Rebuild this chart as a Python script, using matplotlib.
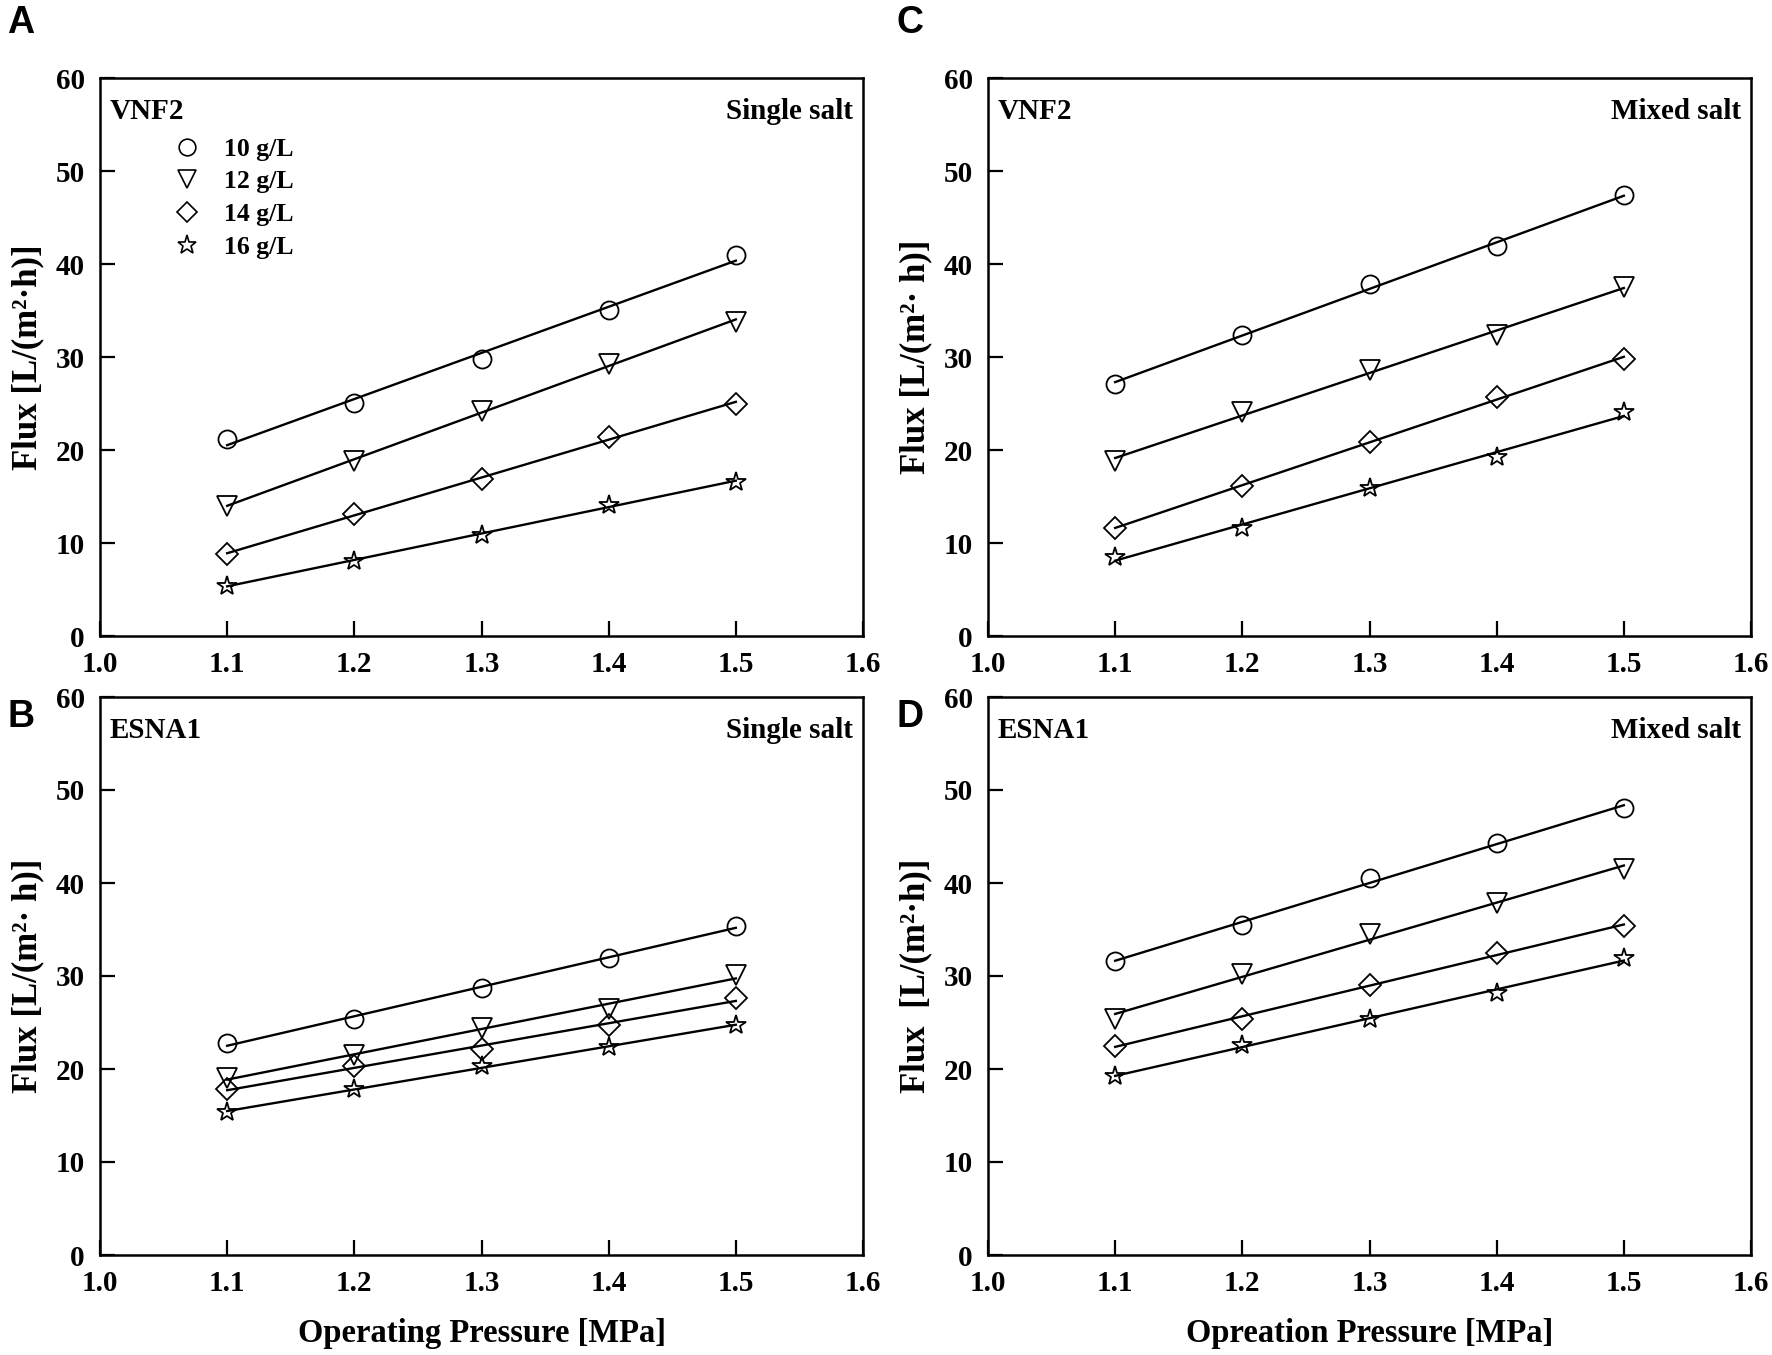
import numpy as np
import matplotlib
matplotlib.use("Agg")
import matplotlib.pyplot as plt
from matplotlib.lines import Line2D

plt.rcParams['font.family'] = ['Liberation Serif', 'DejaVu Serif']
plt.rcParams['font.weight'] = 'bold'

pressure = [1.1, 1.2, 1.3, 1.4, 1.5]
conc_labels = ["10 g/L", "12 g/L", "14 g/L", "16 g/L"]
markers = ['o', 'v', 'D', '*']

# Panel A: VNF2, single salt
A_10 = [21.2, 25.1, 29.8, 35.1, 41.0]
A_12 = [14.0, 18.8, 24.2, 29.3, 33.8]
A_14 = [8.8, 13.1, 16.9, 21.4, 25.0]
A_16 = [5.4, 8.1, 10.9, 14.1, 16.6]
# Panel B: ESNA1, single salt
B_10 = [22.8, 25.4, 28.7, 31.9, 35.4]
B_12 = [19.0, 21.5, 24.4, 26.5, 30.1]
B_14 = [17.8, 20.3, 22.2, 24.7, 27.6]
B_16 = [15.4, 17.8, 20.3, 22.4, 24.7]
# Panel C: VNF2, mixed salt
C_10 = [27.1, 32.4, 37.8, 41.9, 47.4]
C_12 = [18.8, 24.1, 28.6, 32.4, 37.5]
C_14 = [11.6, 16.1, 20.9, 25.7, 29.8]
C_16 = [8.5, 11.6, 15.9, 19.3, 24.1]
# Panel D: ESNA1, mixed salt
D_10 = [31.6, 35.5, 40.5, 44.3, 48.1]
D_12 = [25.4, 30.2, 34.5, 37.9, 41.5]
D_14 = [22.5, 25.4, 29.0, 32.5, 35.4]
D_16 = [19.2, 22.6, 25.4, 28.2, 31.9]

panels = [
    dict(letter="A", membrane="VNF2", salt="Single salt", series=[A_10, A_12, A_14, A_16],
         ylabel="Flux [L/(m²·h)]", xlabel=None, legend=True),
    dict(letter="B", membrane="ESNA1", salt="Single salt", series=[B_10, B_12, B_14, B_16],
         ylabel="Flux [L/(m²· h)]", xlabel="Operating Pressure [MPa]", legend=False),
    dict(letter="C", membrane="VNF2", salt="Mixed salt", series=[C_10, C_12, C_14, C_16],
         ylabel="Flux [L/(m²· h)]", xlabel=None, legend=False),
    dict(letter="D", membrane="ESNA1", salt="Mixed salt", series=[D_10, D_12, D_14, D_16],
         ylabel="Flux  [L/(m²·h)]", xlabel="Opreation Pressure [MPa]", legend=False),
]

msize = {'o': 13, 'v': 15, 'D': 11.7, '*': 15}
legend_msize = {'o': 12, 'v': 13, 'D': 10.5, '*': 14}

W, H = 1772, 1355
fig = plt.figure(figsize=(W / 100, H / 100), dpi=100)

def rect(l, t, r, b):
    return [l / W, 1 - b / H, (r - l) / W, (b - t) / H]

rects = [rect(100, 78, 863, 636), rect(100, 697, 863, 1255),
         rect(988, 78, 1751, 636), rect(988, 697, 1751, 1255)]
letter_pos = [(7, 5), (7, 699), (897, 5), (897, 699)]

for p, r, lp in zip(panels, rects, letter_pos):
    ax = fig.add_axes(r)
    x = np.array(pressure)
    for vals, m in zip(p["series"], markers):
        y = np.array(vals)
        k, c = np.polyfit(x, y, 1)
        ax.plot(x, k * x + c, color='black', lw=1.7, zorder=2)
        ax.plot(x, y, linestyle='none', marker=m, markersize=msize[m], markerfacecolor='none',
                markeredgecolor='black', markeredgewidth=1.3, zorder=3)
    ax.set_xlim(1.0, 1.6)
    ax.set_ylim(0, 60)
    ax.set_xticks([1.0, 1.1, 1.2, 1.3, 1.4, 1.5, 1.6])
    ax.set_xticklabels(["1.0", "1.1", "1.2", "1.3", "1.4", "1.5", "1.6"])
    ax.set_yticks([0, 10, 20, 30, 40, 50, 60])
    ax.tick_params(direction='in', length=11, width=1.6, labelsize=21, pad=11,
                   top=False, right=False)
    for lab in ax.get_xticklabels() + ax.get_yticklabels():
        lab.set_fontweight('bold')
    for s in ax.spines.values():
        s.set_linewidth(1.8)
    ax.set_ylabel(p["ylabel"], fontsize=25, fontweight='bold', labelpad=8)
    if p["xlabel"]:
        ax.set_xlabel(p["xlabel"], fontsize=23.5, fontweight='bold', labelpad=15)
    ax.text(0.013, 0.965, p["membrane"], transform=ax.transAxes, fontsize=21,
            fontweight='bold', ha='left', va='top')
    ax.text(0.987, 0.965, p["salt"], transform=ax.transAxes, fontsize=21,
            fontweight='bold', ha='right', va='top')
    if p["legend"]:
        handles = []
        for lab, m in zip(conc_labels, markers):
            handles.append(Line2D([], [], linestyle='none', marker=m, markersize=legend_msize[m],
                                  markerfacecolor='none', markeredgecolor='black',
                                  markeredgewidth=1.2, label=lab))
        ax.legend(handles=handles, loc='upper left', bbox_to_anchor=(0.097, 0.893),
                  frameon=False, borderaxespad=0, borderpad=0, handlelength=1.0,
                  handletextpad=0.95, labelspacing=0.38,
                  prop=dict(family='Liberation Serif', weight='bold', size=18.5))
    fig.text(lp[0] / W, 1 - lp[1] / H, p["letter"], fontsize=27, fontweight='bold',
             family='Liberation Sans', ha='left', va='top')

fig.savefig("out.png", dpi=100)
